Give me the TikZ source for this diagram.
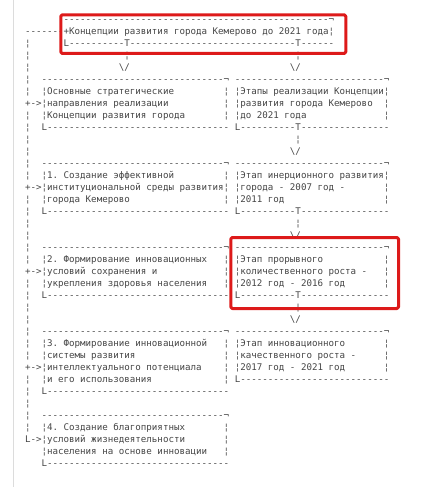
\documentclass[tikz,border=0pt]{standalone}
\usepackage{fontspec}
\newfontfamily\schemefont{DejaVu Sans Mono}
\definecolor{schemegray}{HTML}{454545}
\definecolor{markred}{HTML}{DD1A1A}
\definecolor{pagerule}{HTML}{DCDCDC}
% a run of hyphens, one box each so no ligature is formed
\newcommand\dashrun[1]{\foreach\k in {1,...,#1}{\hbox{-}}}

\begin{document}
\begin{tikzpicture}[x=5.52pt,y=-12pt,line join=round,line cap=round,
		ch/.style={anchor=base west,inner sep=0pt,outer sep=0pt,text=schemegray,
			font=\schemefont\fontsize{9.17pt}{12pt}\selectfont\frenchspacing},
		hilite/.style={draw=markred,line width=3pt,rounded corners=1.5pt}]
	\useasboundingbox (0pt,0pt) rectangle (442pt,-487pt);
	\draw[pagerule] (13.3pt,0pt) -- (13.3pt,-487pt);
	\begin{scope}[shift={(25pt,-22.5pt)}]
		% head box
		\node[ch] (head0) at (7,0) {\dashrun{48}¬};
		\node[ch] (head1) at (0,1) {\dashrun{7}+Концепции развития города Кемерово до 2021 года¦};
		\node[ch] (head2) at (7,2) {L\dashrun{10}T\dashrun{30}T\dashrun{6}};
		\foreach \c in {18,49} \node[ch] (stem\c) at (\c,3) {¦};
		\foreach \c in {17,48} \node[ch] (tip\c) at (\c,4) {\textbackslash/};
		% left rail with its arrows
		\foreach \r in {2,3,4,5,6,8,9,10,11,12,13,15,16,17,18,19,20,22,23,24,25,26,27,28,30,31,32,33,34}
			\node[ch] (rail\r) at (0,\r) {¦};
		\foreach \r in {7,14,21,29} \node[ch] (arr\r) at (0,\r) {+->};
		\node[ch] (arr35) at (0,35) {L->};
		% boxes: tops, walls, bottoms
		\foreach \r in {5,12,19,26,33} \node[ch] (ltop\r) at (3,\r) {\dashrun{33}¬};
		\foreach \r in {5,12,19,26} \node[ch] (rtop\r) at (38,\r) {\dashrun{27}¬};
		\foreach \r in {6,7,8,13,14,15,20,21,22,27,28,29,30,34,35,36} {
			\node[ch] (lwa\r) at (3,\r) {¦};
			\node[ch] (lwb\r) at (36,\r) {¦};
		}
		\foreach \r in {6,7,8,13,14,15,20,21,22,27,28,29} {
			\node[ch] (rwa\r) at (38,\r) {¦};
			\node[ch] (rwb\r) at (65,\r) {¦};
		}
		\foreach \r in {9,16,23,31,37} \node[ch] (lbot\r) at (3,\r) {L\dashrun{33}};
		\foreach \r in {9,16,23} \node[ch] (rbot\r) at (38,\r) {L\dashrun{10}T\dashrun{16}};
		\node[ch] (rbot30) at (38,30) {L\dashrun{27}};
		% links between the stages
		\foreach \r in {10,17,24} \node[ch] (stem\r) at (49,\r) {¦};
		\foreach \r in {11,18,25} \node[ch] (tip\r) at (48,\r) {\textbackslash/};
		% texts
		\foreach \r/\t in {6/{Основные стратегические},7/{направления реализации},
				8/{Концепции развития города},13/{1. Создание эффективной},
				14/{институциональной среды развития},15/{города Кемерово},
				20/{2. Формирование инновационных},21/{условий сохранения и},
				22/{укрепления здоровья населения},27/{3. Формирование инновационной},
				28/{системы развития},29/{интеллектуального потенциала},
				30/{и его использования},34/{4. Создание благоприятных},
				35/{условий жизнедеятельности},36/{населения на основе инновации}}
			\node[ch] (ltx\r) at (4,\r) {\t};
		\foreach \r/\t in {6/{Этапы реализации Концепции},7/{развития города Кемерово},
				8/{до 2021 года},13/{Этап инерционного развития},
				14/{города - 2007 год -},15/{2011 год},20/{Этап прорывного},
				21/{количественного роста -},22/{2012 год - 2016 год},
				27/{Этап инновационного},28/{качественного роста -},
				29/{2017 год - 2021 год}}
			\node[ch] (rtx\r) at (39,\r) {\t};
	\end{scope}
	% highlight frames
	\draw[hilite] (60.8pt,-14.8pt) rectangle (345.8pt,-53.5pt);
	\draw[hilite] (230.8pt,-237.5pt) rectangle (398.5pt,-308.5pt);
\end{tikzpicture}
\end{document}
